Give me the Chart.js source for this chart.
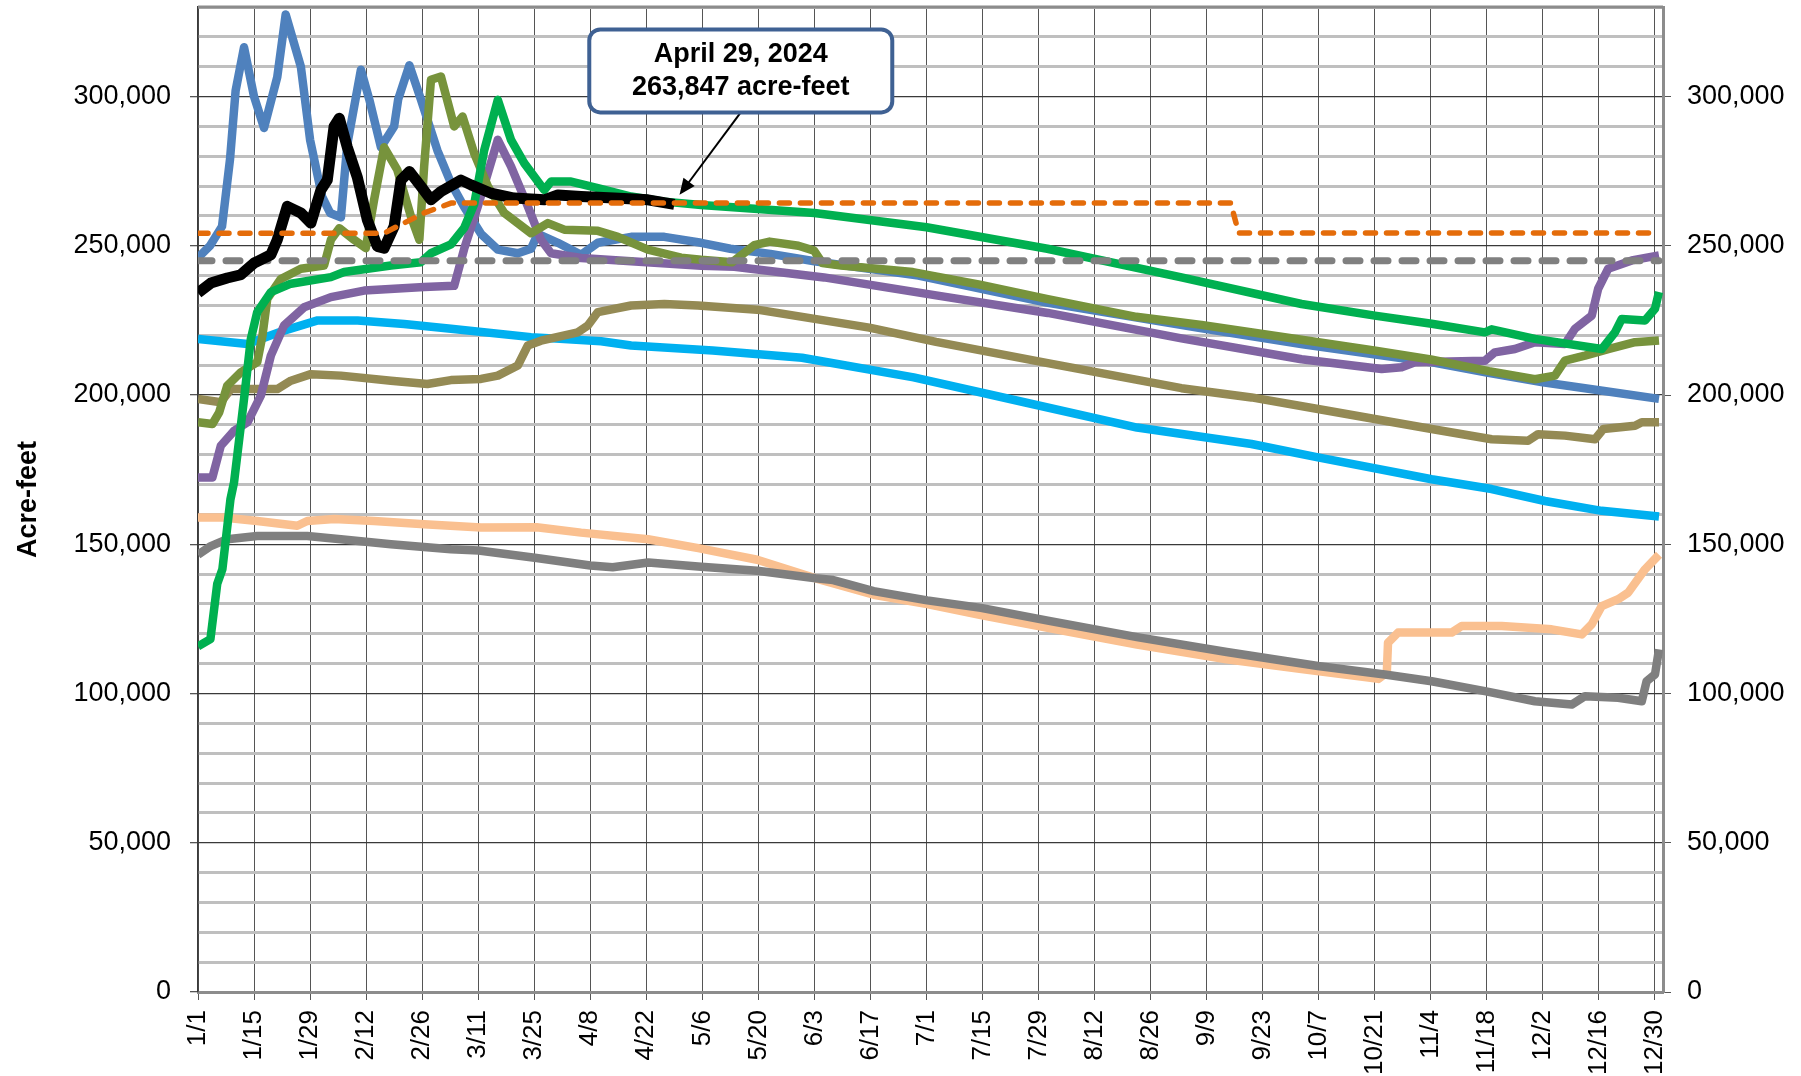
<!DOCTYPE html>
<html>
<head>
<meta charset="utf-8">
<title>Reservoir storage, acre-feet</title>
<script src="https://cdn.jsdelivr.net/npm/chart.js@4.4.1/dist/chart.umd.min.js"></script>
<style>
  html, body { margin: 0; padding: 0; background: #fff; }
  #chart { display: block; }
</style>
</head>
<body>
<canvas id="chart" width="1801" height="1076"></canvas>
<script>
// x tick labels, one every 14 days starting 1/1 (2024 is a leap year)
const xTickLabels = ['1/1', '1/15', '1/29', '2/12', '2/26', '3/11', '3/25', '4/8', '4/22', '5/6',
    '5/20', '6/3', '6/17', '7/1', '7/15', '7/29', '8/12', '8/26', '9/9', '9/23', '10/7',
    '10/21', '11/4', '11/18', '12/2', '12/16', '12/30'];

// each series: [day of year (0 = 1/1), acre-feet]
const current2024 = [[0, 234200], [3.2, 237500], [7.3, 239200], [10.7, 240300], [14, 244200], [18.2, 247000],
    [19.8, 252000], [22.3, 263200], [25.7, 261000], [28.2, 257600], [30.7, 268700], [32.3, 272000],
    [34, 290000], [35.3, 292700], [37.3, 283000], [39.8, 273000], [42.3, 258700], [44.8, 249800],
    [46.5, 249200], [49, 256500], [50.7, 272000], [52.8, 274900], [55.7, 269900], [58.2, 265400],
    [60.7, 268200], [65.7, 272000], [68.2, 270400], [73.2, 267600], [79, 266000], [86.5, 265400],
    [89.9, 267000], [95.7, 266500], [104, 266000], [112.4, 265400], [119, 263847]];

const floodPool = [[0, 254200], [46.5, 254200], [49.8, 256500], [56.5, 261000], [63.2, 264300],
    [258, 264300], [260, 254300], [365, 254300]];

const conservationPool = [[0, 245000], [365, 245000]];

const steelBlue = [[0, 246000], [3, 250000], [6, 256500], [8, 279000], [9.4, 302000], [11.5, 316500],
    [14, 300000], [16.5, 289500], [19.8, 306500], [21.9, 327500], [25.7, 310000], [28, 285500],
    [31, 266500], [33, 261000], [35.7, 259500], [37.3, 284000], [40.7, 309000], [42.8, 299000],
    [45.7, 283000], [49, 290000], [50, 299000], [52.8, 310500], [55.7, 299000], [59.8, 282000],
    [63.2, 271000], [66.5, 263000], [70.7, 254000], [74.9, 248700], [79.9, 247500], [83.2, 249000],
    [84.9, 254000], [89.9, 251000], [95.7, 247000], [99.9, 251000], [108.2, 253000], [116.5, 253000],
    [125.7, 251000], [133, 249000], [143, 247300], [154, 244800], [180, 240000], [212, 231000],
    [250, 222500], [276, 217000], [308, 211000], [322, 207500], [336, 204300], [350, 201600],
    [365, 198700]];

const oliveGreen = [[0, 190900], [3.6, 190300], [5.3, 194200], [7.3, 203100], [10.7, 207600], [14.8, 211000],
    [16.1, 219900], [17.3, 232200], [20.7, 238900], [25.7, 242300], [31.5, 243400], [33.2, 252000],
    [35.3, 255900], [39, 252000], [41.9, 249200], [44, 265400], [46.5, 283000], [49.8, 275400],
    [53.2, 259800], [55.3, 252000], [56.5, 276600], [58.2, 305600], [60.7, 306700], [64, 290000],
    [66.1, 293300], [69, 281000], [72.4, 270000], [76.5, 261000], [83.2, 254200], [87.4, 257600],
    [91.5, 255400], [99.9, 255000], [104.9, 253000], [112.4, 248700], [120.7, 246000], [125.7, 245300],
    [133.5, 244500], [139, 250200], [142.8, 251400], [150, 250000], [153.9, 248400], [156, 244200],
    [160.7, 243400], [178.6, 241200], [195.3, 237000], [212, 232200], [234.4, 226200], [250.7, 223500],
    [275.7, 218500], [293.8, 214900], [308, 211900], [322.5, 208000], [334, 205300], [339, 206500],
    [341.5, 211500], [346.5, 213200], [352.3, 215400], [359, 217700], [365, 218300]];

const brightGreen = [[0, 115800], [3.1, 118200], [4.8, 136700], [6.1, 141700], [8.1, 165000], [9, 170700],
    [11.5, 198700], [13.2, 218800], [14.8, 227800], [18.2, 234500], [23.2, 237300], [33.2, 239500],
    [36.5, 241200], [48.2, 243400], [55.7, 244500], [58.2, 247500], [63.2, 250500], [66.5, 256000],
    [69, 264000], [71.5, 282000], [74.9, 298900], [78.2, 285500], [81.5, 277700], [86.5, 268700],
    [88.2, 271500], [93.2, 271500], [99.9, 269300], [108.2, 266500], [116.5, 264800], [125.7, 263700],
    [154, 261000], [182, 256200], [212.2, 249000], [245.7, 239400], [275.7, 230500], [294, 226600],
    [308.2, 223900], [321.5, 221000], [323.2, 222000], [334, 218800], [350.7, 215400], [354, 221000],
    [355.7, 225500], [361.5, 225000], [364, 228900], [365, 234500]];

const purple = [[0, 172400], [3.6, 172400], [5.7, 183000], [9, 188000], [12.4, 190900], [15.7, 199800],
    [18.2, 213200], [21.5, 223300], [26.5, 229400], [33.2, 232800], [41.5, 235000], [56.5, 236200],
    [64, 236600], [66.5, 249000], [69.9, 263200], [72.4, 274300], [74.9, 285500], [78.2, 276600],
    [82.4, 263200], [85.7, 252000], [88.2, 247500], [95.7, 245900], [108.2, 244800], [125.7, 243300],
    [134, 243000], [156.4, 239400], [184.4, 233400], [212.3, 227500], [245.7, 219000], [275.7, 212000],
    [295.7, 208700], [300.7, 209300], [304, 211000], [321.5, 211500], [324, 214300], [329, 215400],
    [334, 217700], [341.5, 217100], [344, 222200], [348.2, 226600], [349.8, 235600], [352.3, 242300],
    [358.2, 245100], [365, 246800]];

const khaki = [[0, 198700], [5.7, 197600], [8.2, 202000], [19.8, 202000], [23.2, 204800], [28.2, 207000],
    [35.7, 206500], [48.2, 204800], [57.3, 203700], [63.2, 205000], [70.7, 205400], [74.9, 206500],
    [79.9, 209900], [82.4, 216600], [85.7, 218200], [94.9, 221000], [97.4, 223300], [99.9, 227800],
    [108.2, 230000], [116.5, 230500], [124.9, 230000], [139.7, 228600], [167.7, 222600], [184.4, 217800],
    [212.3, 210700], [245.7, 202300], [263.2, 199200], [279.8, 195300], [308.2, 188600], [323.2, 185200],
    [332.3, 184700], [334.8, 186900], [341.5, 186400], [349, 185200], [351.1, 188600], [359, 189700],
    [360.7, 190900], [365, 190900]];

const skyBlue = [[0, 218800], [12.4, 217100], [15.7, 218800], [21.5, 221600], [29.9, 225000], [39.9, 225000],
    [51.5, 223800], [63.2, 222200], [83.2, 219400], [100.7, 218000], [108.2, 216600], [128.6, 214900],
    [150.9, 212500], [178.8, 205900], [206.7, 197500], [234.6, 189100], [263.2, 183600], [279.8, 179100],
    [308.2, 171800], [323.2, 168500], [336.5, 164500], [350.7, 161200], [365, 159300]];

const peach = [[0, 159000], [6.3, 159000], [14.8, 157800], [24.8, 156200], [27.3, 157800], [34, 158500],
    [44, 157800], [56.5, 156700], [70.7, 155600], [84.6, 155700], [95.7, 153900], [112.4, 151700],
    [125, 148700], [139.7, 144800], [154.3, 138600], [168.8, 133100], [182.2, 130000], [195.6, 126300],
    [212.3, 122000], [234.6, 116400], [257, 111500], [275.7, 108200], [294.9, 104900], [297, 107000],
    [297.3, 117000], [299.8, 120400], [313.2, 120400], [315.7, 122600], [325.7, 122600], [338.2, 121500],
    [345.7, 119800], [348.2, 123200], [350.7, 129300], [354.8, 131600], [357.3, 133800], [361.5, 141600],
    [365, 146500]];

const darkGray = [[0, 146500], [3.2, 149400], [7.3, 151700], [14.8, 152800], [27.3, 152800], [35.7, 151700],
    [48.2, 150000], [63.2, 148300], [70.1, 147900], [84.6, 145400], [98, 142900], [103.6, 142300],
    [112.5, 143900], [125.7, 142500], [139.7, 141100], [154.3, 138600], [158.7, 138000], [168.8, 134300],
    [182.2, 131200], [195.6, 128700], [212.3, 124400], [234.6, 118900], [257, 113900], [279.8, 109200],
    [296.5, 106400], [308.2, 104100], [321.5, 100800], [334, 97400], [343.2, 96300], [346.5, 99100],
    [354.8, 98600], [360.7, 97400], [361.9, 104100], [364, 106400], [365, 114800]];

// callout text and where it sits (data units)
const calloutLines = ['April 29, 2024', '263,847 acre-feet'];
const calloutBox = { day: 135.6, value: 308600 };
const calloutTip = { day: 120.3, value: 267100 };

const FONT = '"Liberation Sans", Arial, sans-serif';

function toPoints(pairs) {
    return pairs.map(p => ({ x: p[0], y: p[1] }));
}

function series(pairs, color, width, dash) {
    return {
        data: toPoints(pairs),
        borderColor: color,
        borderWidth: width,
        borderDash: dash || [],
        borderCapStyle: dash ? 'round' : 'butt',
        borderJoinStyle: 'round',
        pointRadius: 0,
        tension: 0,
        fill: false
    };
}

// draws the top frame line
const framePlugin = {
    id: 'frame',
    beforeDatasetsDraw(chart) {
        const { ctx, chartArea } = chart;
        ctx.save();
        ctx.strokeStyle = '#8c8c8c';
        ctx.lineWidth = 3;
        ctx.beginPath();
        ctx.moveTo(chartArea.left, chartArea.top);
        ctx.lineTo(chartArea.right, chartArea.top);
        ctx.stroke();
        ctx.restore();
    }
};

// the April 29 callout box with its arrow
const calloutPlugin = {
    id: 'callout',
    afterDraw(chart) {
        const { ctx } = chart;
        const x = chart.scales.x, y = chart.scales.y;
        const cx = x.getPixelForValue(calloutBox.day);
        const cy = y.getPixelForValue(calloutBox.value);
        const w = 303, h = 83;
        const tx = x.getPixelForValue(calloutTip.day);
        const ty = y.getPixelForValue(calloutTip.value);

        ctx.save();
        const sx = cx, sy = cy + h / 2;
        const ang = Math.atan2(ty - sy, tx - sx);
        const head = 16;
        ctx.strokeStyle = '#000';
        ctx.lineWidth = 2;
        ctx.beginPath();
        ctx.moveTo(sx, sy);
        ctx.lineTo(tx - Math.cos(ang) * head * 0.8, ty - Math.sin(ang) * head * 0.8);
        ctx.stroke();
        ctx.fillStyle = '#000';
        ctx.beginPath();
        ctx.moveTo(tx, ty);
        ctx.lineTo(tx - head * Math.cos(ang) + 7 * Math.sin(ang), ty - head * Math.sin(ang) - 7 * Math.cos(ang));
        ctx.lineTo(tx - head * Math.cos(ang) - 7 * Math.sin(ang), ty - head * Math.sin(ang) + 7 * Math.cos(ang));
        ctx.closePath();
        ctx.fill();

        ctx.fillStyle = '#fff';
        ctx.strokeStyle = '#3f6193';
        ctx.lineWidth = 4;
        ctx.beginPath();
        ctx.roundRect(cx - w / 2, cy - h / 2, w, h, 11);
        ctx.fill();
        ctx.stroke();

        ctx.fillStyle = '#000';
        ctx.font = 'bold 27px ' + FONT;
        ctx.textAlign = 'center';
        ctx.textBaseline = 'middle';
        ctx.fillText(calloutLines[0], cx, cy - 16);
        ctx.fillText(calloutLines[1], cx, cy + 17);
        ctx.restore();
    }
};

const isMajor = (ctx) => ctx.tick && ctx.tick.value % 50000 === 0;

const yTicks = {
    stepSize: 10000,
    autoSkip: false,
    color: '#000',
    font: { family: FONT, size: 27 },
    callback: (v) => (v % 50000 === 0 ? v.toLocaleString('en-US') : '')
};

// fixed axis sizes so the plot area lands where the reference has it
function fixWidth(w) {
    return (axis) => { axis.width = w; axis.paddingTop = 0; axis.paddingBottom = 0; };
}

new Chart(document.getElementById('chart'), {
    type: 'line',
    data: {
        datasets: [
            series(floodPool, '#e46c0a', 5.5, [10, 11]),
            series(current2024, '#000000', 11),
            series(conservationPool, '#808080', 7, [14, 14]),
            series(brightGreen, '#00b050', 8.5),
            series(oliveGreen, '#77933c', 8.5),
            series(purple, '#8064a2', 8.5),
            series(steelBlue, '#4f81bd', 8.5),
            series(khaki, '#948a54', 8.5),
            series(skyBlue, '#00b0f0', 8.5),
            series(darkGray, '#7f7f7f', 8.5),
            series(peach, '#fac090', 8.5)
        ]
    },
    options: {
        responsive: false,
        animation: false,
        layout: { padding: { top: 7, left: 0, right: 0, bottom: 0 } },
        plugins: {
            legend: { display: false },
            tooltip: { enabled: false }
        },
        scales: {
            x: {
                type: 'linear',
                min: 0,
                max: 366,
                afterBuildTicks: (axis) => {
                    axis.ticks = xTickLabels.map((_, i) => ({ value: i * 14 }));
                },
                afterFit: (axis) => { axis.height = 84; axis.paddingLeft = 0; axis.paddingRight = 0; },
                ticks: {
                    autoSkip: false,
                    minRotation: 90,
                    maxRotation: 90,
                    padding: 10,
                    color: '#000',
                    font: { family: FONT, size: 26 },
                    callback: (v) => xTickLabels[Math.round(v / 14)]
                },
                grid: { color: '#555', lineWidth: 1, tickLength: 8, tickColor: '#555' },
                border: { color: '#8c8c8c', width: 3 }
            },
            y: {
                position: 'left',
                min: 0,
                max: 330000,
                afterFit: fixWidth(198),
                ticks: Object.assign({}, yTicks, { padding: 19 }),
                grid: {
                    color: (ctx) => (isMajor(ctx) ? '#3a3a3a' : '#bfbfbf'),
                    lineWidth: (ctx) => (isMajor(ctx) ? 1.3 : 3),
                    tickColor: (ctx) => (isMajor(ctx) ? '#555' : 'rgba(0,0,0,0)'),
                    tickLength: 8
                },
                border: { color: '#3a3a3a', width: 1.5 },
                title: {
                    display: true,
                    text: 'Acre-feet',
                    color: '#000',
                    font: { family: FONT, size: 27, weight: 'bold' },
                    padding: { top: 12, bottom: 0 }
                }
            },
            y2: {
                position: 'right',
                min: 0,
                max: 330000,
                afterFit: fixWidth(138),
                ticks: Object.assign({}, yTicks, { padding: 16 }),
                grid: {
                    drawOnChartArea: false,
                    tickColor: (ctx) => (isMajor(ctx) ? '#555' : 'rgba(0,0,0,0)'),
                    tickLength: 8
                },
                border: { color: '#8c8c8c', width: 3 }
            }
        }
    },
    plugins: [framePlugin, calloutPlugin]
});
</script>
</body>
</html>
